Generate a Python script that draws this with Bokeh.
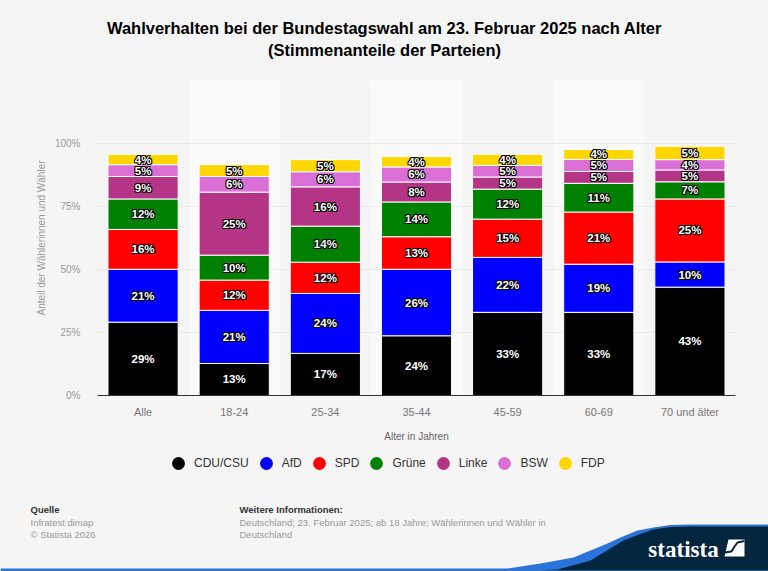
from bokeh.core.properties import value
from bokeh.embed import file_html
from bokeh.layouts import column
from bokeh.resources import INLINE
from bokeh.plotting import figure
from bokeh.models import (ColumnDataSource, FixedTicker, FactorRange, Range1d, Label, Legend, LegendItem)

categories = ["Alle", "18-24", "25-34", "35-44", "45-59", "60-69", "70 und älter"]
parties = ["CDU/CSU", "AfD", "SPD", "Grüne", "Linke", "BSW", "FDP"]
colors = ["#000000", "#0000ff", "#ff0000", "#008000", "#b43585", "#da70d6", "#ffd700"]

cdu = [29.1, 12.7, 16.7, 23.7, 33.0, 33.0, 43.0]
afd = [21.0, 21.1, 23.8, 26.4, 21.8, 19.1, 10.0]
spd = [15.8, 12.0, 12.4, 12.9, 15.2, 20.7, 25.0]
gruene = [12.1, 9.9, 14.3, 13.8, 11.9, 11.4, 6.8]
linke = [8.9, 25.0, 15.6, 7.9, 4.8, 4.7, 4.7]
bsw = [4.7, 6.2, 6.0, 6.0, 4.6, 4.8, 4.1]
fdp = [4.1, 4.7, 4.8, 4.1, 4.4, 3.9, 5.3]
series = [cdu, afd, spd, gruene, linke, bsw, fdp]

y_ticks = [0, 25, 50, 75, 100]
y_max = 125

BG = "#f5f5f5"
FONT = "Liberation Sans"
W, H_HEAD, H_CHART, H_FOOT = 768, 70, 380, 121


def blank(height, y0, y1):
    g = figure(width=W, height=height, output_backend="svg", toolbar_location=None,
               x_range=Range1d(0, W), y_range=Range1d(y1, y0), min_border=0, frame_align=False,
               background_fill_color=BG, border_fill_color=BG, outline_line_color=None)
    g.axis.visible = False
    g.grid.visible = False
    return g


def txt(g, text, x, y, size, color, style="normal", align="left", font=FONT):
    g.add_layout(Label(x=x, y=y, text=text, text_font=font, text_font_size=size, text_color=color,
                       text_font_style=style, text_align=align, text_baseline="middle"))


# title strip
h = blank(H_HEAD, 0, H_HEAD)
txt(h, "Wahlverhalten bei der Bundestagswahl am 23. Februar 2025 nach Alter", 384, 27, "16.5px", "#000000", "bold", "center")
txt(h, "(Stimmenanteile der Parteien)", 384, 49, "16.5px", "#000000", "bold", "center")

# chart
p = figure(width=W, height=H_CHART, output_backend="svg", toolbar_location=None, frame_align=False,
           x_range=FactorRange(factors=categories, range_padding=0, factor_padding=0),
           y_range=Range1d(0, y_max),
           min_border_left=97, min_border_right=33, min_border_top=10, min_border_bottom=55,
           background_fill_color=BG, border_fill_color=BG, outline_line_color=None)

band_cats = categories[1::2]
p.vbar(x=band_cats, top=[y_max] * len(band_cats), bottom=0, width=1.0,
       fill_color="#fafafa", line_color=None, level="underlay")

bottom = [0.0] * len(categories)
labels_x, labels_y, labels_t = [], [], []
for vals, col in zip(series, colors):
    top = [b + v for b, v in zip(bottom, vals)]
    p.vbar(x=categories, bottom=bottom, top=top, width=0.77, fill_color=col,
           line_color="#ffffff", line_width=1)
    for c, b, t, v in zip(categories, bottom, top, vals):
        labels_x.append(c)
        labels_y.append((b + t) / 2)
        labels_t.append(f"{round(v)}%")
    bottom = top

src = ColumnDataSource(dict(x=labels_x, y=labels_y, t=labels_t))
common = dict(x="x", y="y", text="t", source=src, text_font=value(FONT), text_font_style="bold",
              text_font_size=value("11.5px"), text_align="center", text_baseline="middle")
for dx, dy in ((-1, -1), (1, -1), (-1, 1), (1, 1)):
    p.text(text_color="#000000", x_offset=dx, y_offset=dy, **common)
p.text(text_color="#000000", text_outline_color="#000000", **common)
p.text(text_color="#ffffff", **common)

p.xaxis.axis_label = "Alter in Jahren"
p.xaxis.axis_label_text_font = FONT
p.xaxis.axis_label_text_font_style = "normal"
p.xaxis.axis_label_text_font_size = "10px"
p.xaxis.axis_label_text_color = "#666666"
p.xaxis.axis_label_standoff = 10
p.xaxis.major_label_text_font = FONT
p.xaxis.major_label_text_font_size = "11px"
p.xaxis.major_label_text_color = "#777777"
p.xaxis.major_label_standoff = 4
p.xaxis.major_tick_line_color = None
p.xaxis.minor_tick_line_color = None
p.xaxis.axis_line_color = "#333333"
p.xaxis.axis_line_width = 1

p.yaxis.ticker = FixedTicker(ticks=y_ticks)
p.yaxis.major_label_overrides = {t: f"{t}%" for t in y_ticks}
p.yaxis.axis_label = "Anteil der Wählerinnen und Wähler"
p.yaxis.axis_label_text_font = FONT
p.yaxis.axis_label_text_font_style = "normal"
p.yaxis.axis_label_text_font_size = "10px"
p.yaxis.axis_label_text_color = "#999999"
p.yaxis.axis_label_standoff = 5
p.yaxis.major_label_text_font = FONT
p.yaxis.major_label_text_font_size = "10px"
p.yaxis.major_label_text_color = "#999999"
p.yaxis.major_label_standoff = 11
p.yaxis.major_tick_line_color = None
p.yaxis.minor_tick_line_color = None
p.yaxis.axis_line_color = None

p.xgrid.grid_line_color = None
p.ygrid.ticker = FixedTicker(ticks=y_ticks[1:] + [y_max])
p.ygrid.grid_line_color = "#dddddd"
p.ygrid.grid_line_dash = [1, 1]
p.ygrid.level = "underlay"

# footer: data space equals page pixels
f = blank(H_FOOT, 450, 571)

items = []
for name, col in zip(parties, colors):
    r = f.scatter(x=[-50], y=[0], marker="circle", size=13, fill_color=col, line_color=None)
    items.append(LegendItem(label=name, renderers=[r]))
legend = Legend(items=items, orientation="horizontal", location=(162, 92),
                background_fill_alpha=0, border_line_color=None, glyph_width=32, glyph_height=32,
                label_text_font=FONT, label_text_font_size="12px", label_text_color="#333333",
                label_standoff=0, spacing=1, margin=0, padding=0)
f.add_layout(legend, "center")

txt(f, "Quelle", 30, 509, "9.5px", "#333333", "bold")
txt(f, "Infratest dimap", 30, 522, "9.5px", "#999999")
txt(f, "© Statista 2026", 30, 534, "9.5px", "#999999")
txt(f, "Weitere Informationen:", 239, 509, "9.5px", "#333333", "bold")
txt(f, "Deutschland; 23. Februar 2025; ab 18 Jahre; Wählerinnen und Wähler in", 239, 522, "9.5px", "#999999")
txt(f, "Deutschland", 239, 534, "9.5px", "#999999")

# decorative footer wave and logo
blue_xs = [0, 440, 507, 540, 573, 607, 620, 637, 653, 670, 690, 768, 768, 0]
blue_ys = [568, 568, 568, 563, 557, 543, 537, 530, 527, 524.5, 524, 524, 571, 571]
navy_xs = [540, 557, 590, 623, 640, 653, 670, 690, 768, 768, 540]
navy_ys = [570, 569, 560, 540, 533.5, 529, 526.5, 526, 526, 570, 570]
f.patch(blue_xs, blue_ys, fill_color="#2a74d9", line_color=None)
f.patch(navy_xs, navy_ys, fill_color="#03263f", line_color=None)
f.quad(left=[0], right=[768], bottom=[571], top=[570.3], fill_color="#5d7f9c", line_color=None)

txt(f, "statista", 683, 549, "23px", "#ffffff", "bold", "center", "Liberation Sans Narrow")
f.patch([728, 744, 744, 724], [539, 539, 556, 556], fill_color="#ffffff", line_color=None)
f.line([724, 731, 734, 737, 744], [552, 551, 546, 542, 540.5], line_color="#03263f", line_width=2)

page = column(h, p, f, spacing=0, styles={"background-color": BG})
open("out.html", "w").write(file_html(page, INLINE))
